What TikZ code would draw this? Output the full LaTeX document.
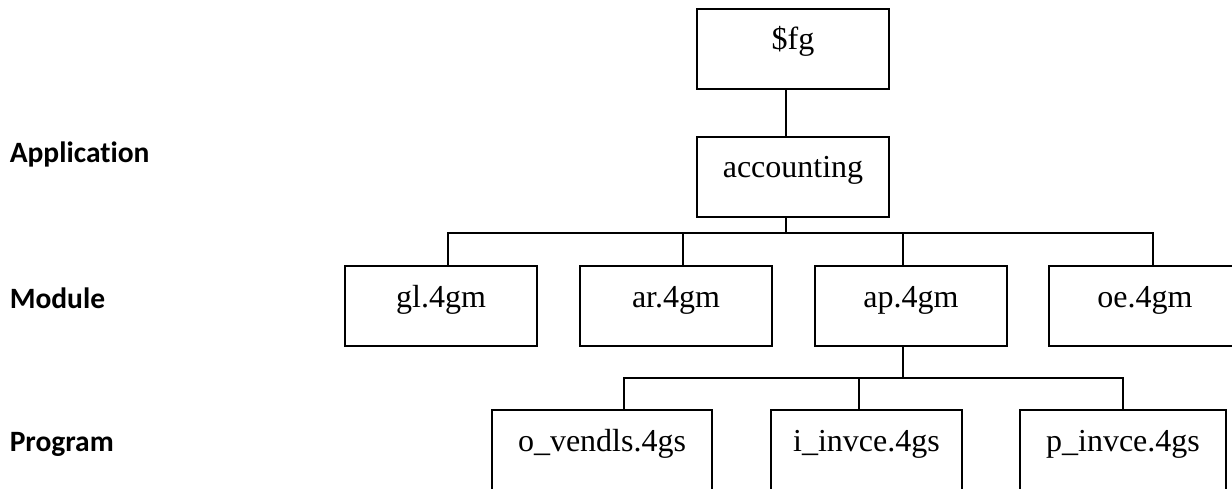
\documentclass[tikz,border=0pt]{standalone}
\usepackage{fontspec}
\setmainfont{Liberation Serif}
\newfontfamily\levelfont{Carlito}[Ligatures=NoCommon]
\begin{document}
\begin{tikzpicture}[x=1pt,y=-1pt,
  line width=1.5pt,
  unit/.style={draw, rectangle, inner sep=0pt, minimum height=80pt,
    text height=41pt, text depth=39pt,
    font=\fontsize{32}{38}\selectfont},
  level/.style={anchor=base west, inner sep=0pt,
    font=\levelfont\bfseries\fontsize{29.5}{35}\selectfont}]
\clip (0,0) rectangle (1232,489);
\useasboundingbox (0,0) rectangle (1232,489);

% level captions
\node[level] (lapp)  at (9,163) {Application};
\node[level] (lmod)  at (9,308) {Module};
\node[level] (lprog) at (9,451) {Program};

% hierarchy boxes
\node[unit, minimum width=192pt] (fg)  at (793,49)  {\$fg};
\node[unit, minimum width=192pt] (acc) at (793,177) {accounting};

\node[unit, minimum width=192pt] (gl) at (441,306)  {gl.4gm};
\node[unit, minimum width=192pt] (ar) at (676,306)  {ar.4gm};
\node[unit, minimum width=192pt] (ap) at (911,306)  {ap.4gm};
\node[unit, minimum width=192pt] (oe) at (1145,306) {oe.4gm};

\node[unit, minimum width=220pt] (ov) at (602,450)   {o\_vendls.4gs};
\node[unit, minimum width=191pt] (ii) at (866.5,450) {i\_invce.4gs};
\node[unit, minimum width=206pt] (pi) at (1123,450)  {p\_invce.4gs};

% attachment points
\coordinate (fgB)  at ([xshift=-7pt]fg.south);
\coordinate (accT) at ([xshift=-7pt]acc.north);
\coordinate (accB) at ([xshift=-7pt]acc.south);
\coordinate (glT)  at ([xshift=7pt]gl.north);
\coordinate (arT)  at ([xshift=7pt]ar.north);
\coordinate (apT)  at ([xshift=-8pt]ap.north);
\coordinate (oeT)  at ([xshift=8pt]oe.north);
\coordinate (apB)  at ([xshift=-8pt]ap.south);
\coordinate (ovT)  at ([xshift=22pt]ov.north);
\coordinate (iiT)  at ([xshift=-7.5pt]ii.north);
\coordinate (piT)  at (pi.north);
\coordinate (busA) at (0,233);
\coordinate (busB) at (0,378);

% connectors
\draw (fgB) -- (accT);
\draw (accB) -- (accB |- busA);
\draw (glT) |- (busA -| oeT) -- (oeT);
\draw (arT) -- (arT |- busA);
\draw (apT) -- (apT |- busA);

\draw (apB) -- (apB |- busB);
\draw (ovT) |- (busB -| piT) -- (piT);
\draw (iiT) -- (iiT |- busB);
\end{tikzpicture}
\end{document}
